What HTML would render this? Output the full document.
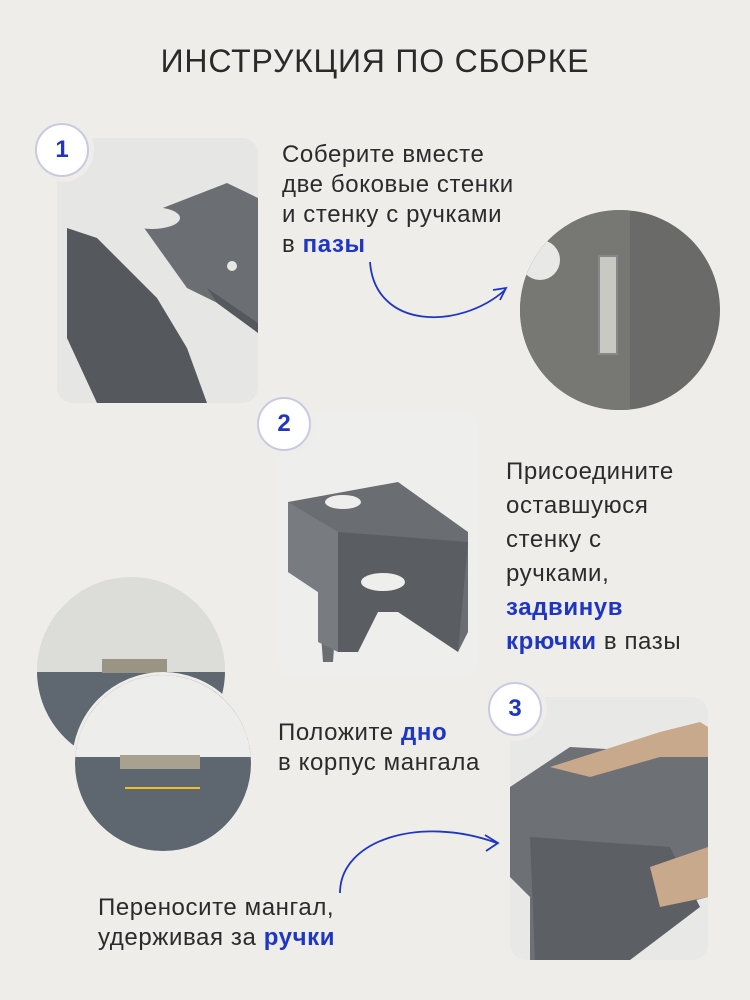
<!DOCTYPE html>
<html><head><meta charset="utf-8">
<style>
*{margin:0;padding:0;box-sizing:border-box}
body{width:750px;height:1000px;background:#eeedea;position:relative;overflow:hidden;font-family:"Liberation Sans","Noto Sans CJK SC",sans-serif;color:#2a2a2a}
.t{position:absolute;font-size:24px;letter-spacing:0.6px;line-height:30px;color:#2b2b2b}
.b{color:#1f35c4;font-weight:bold}
.photo{position:absolute;border-radius:16px;overflow:hidden;background:#e2e2e0}
.badge{position:absolute;width:54px;height:54px;border-radius:50%;background:#fff;border:2px solid #c8cbe0;box-shadow:0 0 0 5px #eeedea;color:#1f35c4;font-weight:bold;font-size:24px;text-align:center;line-height:50px}
.circ{position:absolute;border-radius:50%;overflow:hidden}
</style></head><body>
<div style="position:absolute;top:43px;left:0;width:750px;text-align:center;font-size:32px;letter-spacing:0.8px;color:#2a2a2a">ИНСТРУКЦИЯ ПО СБОРКЕ</div>

<div class="photo" style="left:57px;top:138px;width:201px;height:265px;background:#e6e6e4">
<svg width="201" height="265">
<polygon points="80,80 170,45 201,60 201,185 130,150" fill="#6b6e72"/>
<polygon points="10,90 40,100 60,120 100,160 130,210 150,265 40,265 10,200" fill="#55585c"/>
<polygon points="150,150 201,185 201,195 160,165" fill="#55585c"/>
<ellipse cx="95" cy="80" rx="28" ry="11" fill="#e6e6e4"/>
<circle cx="175" cy="128" r="5" fill="#e6e6e4"/>
</svg></div>
<div class="badge" style="left:35px;top:123px">1</div>
<div class="t" style="left:282px;top:140px">Соберите вместе<br>две боковые стенки<br>и стенку с ручками<br>в <span class="b">пазы</span></div>

<div class="circ" style="left:520px;top:210px;width:200px;height:200px;background:#6a6b68">
<div style="position:absolute;left:0;top:0;width:110px;height:200px;background:#777873"></div>
<div style="position:absolute;left:78px;top:45px;width:20px;height:100px;background:#c9c9c4;border:2px solid #888"></div>
<div style="position:absolute;left:0;top:30px;width:40px;height:40px;border-radius:50%;background:#e8e8e6"></div>
</div>

<svg style="position:absolute;left:0;top:0" width="750" height="1000">
<path d="M370,262 C375,330 460,330 505,290" fill="none" stroke="#1f35c4" stroke-width="1.8"/>
<path d="M493,290 L506,288 L500,300" fill="none" stroke="#1f35c4" stroke-width="1.8"/>
<path d="M340,893 C340,840 420,815 497,843" fill="none" stroke="#1f35c4" stroke-width="1.8"/>
<path d="M485,835 L498,843 L486,851" fill="none" stroke="#1f35c4" stroke-width="1.8"/>
</svg>

<div class="photo" style="left:278px;top:412px;width:200px;height:265px;background:#eeeeec">
<svg width="200" height="265">
<polygon points="10,90 120,70 190,120 190,220 180,240 170,200 60,180 55,250 45,250 40,180 10,160" fill="#6a6d71"/>
<polygon points="60,120 190,130 180,240 120,200 100,200 80,240 60,240" fill="#5a5d61"/>
<polygon points="10,90 60,120 60,240 40,230 40,180 10,160" fill="#787b7f"/>
<ellipse cx="65" cy="90" rx="18" ry="7" fill="#eeeeec"/>
<ellipse cx="105" cy="170" rx="22" ry="9" fill="#eeeeec"/>
</svg></div>
<div class="badge" style="left:257px;top:397px">2</div>
<div class="t" style="left:506px;top:455px;line-height:34px">Присоедините<br>оставшуюся<br>стенку с<br>ручками,<br><span class="b">задвинув</span><br><span class="b">крючки</span> в пазы</div>

<div class="circ" style="left:37px;top:577px;width:188px;height:188px;background:#dcdcd9">
<div style="position:absolute;left:0;top:95px;width:200px;height:100px;background:#5f6770"></div>
<div style="position:absolute;left:65px;top:82px;width:65px;height:14px;background:#9a9484"></div>
</div>
<div class="circ" style="left:72px;top:672px;width:182px;height:182px;background:#5e6670;border:3px solid #eeedea">
<div style="position:absolute;left:0;top:0;width:200px;height:82px;background:#ededeb"></div>
<div style="position:absolute;left:45px;top:80px;width:80px;height:14px;background:#a8a190"></div>
<div style="position:absolute;left:50px;top:112px;width:75px;height:2px;background:#f0c020"></div>
</div>
<div class="t" style="left:278px;top:718px">Положите <span class="b">дно</span><br>в корпус мангала</div>

<div class="photo" style="left:510px;top:697px;width:198px;height:263px;background:#e8e8e6">
<svg width="198" height="263">
<polygon points="0,90 60,50 150,55 198,60 198,200 140,215 110,263 20,263 20,200 0,180" fill="#6d7074"/>
<polygon points="20,140 160,150 190,210 120,263 25,263" fill="#5c5f63"/>
<polygon points="40,70 150,35 190,25 198,30 198,60 150,60 80,80" fill="#c9a98c"/>
<polygon points="140,170 198,150 198,200 150,210" fill="#c9a98c"/>
</svg></div>
<div class="badge" style="left:488px;top:682px">3</div>
<div class="t" style="left:98px;top:893px">Переносите мангал,<br>удерживая за <span class="b">ручки</span></div>
</body></html>
